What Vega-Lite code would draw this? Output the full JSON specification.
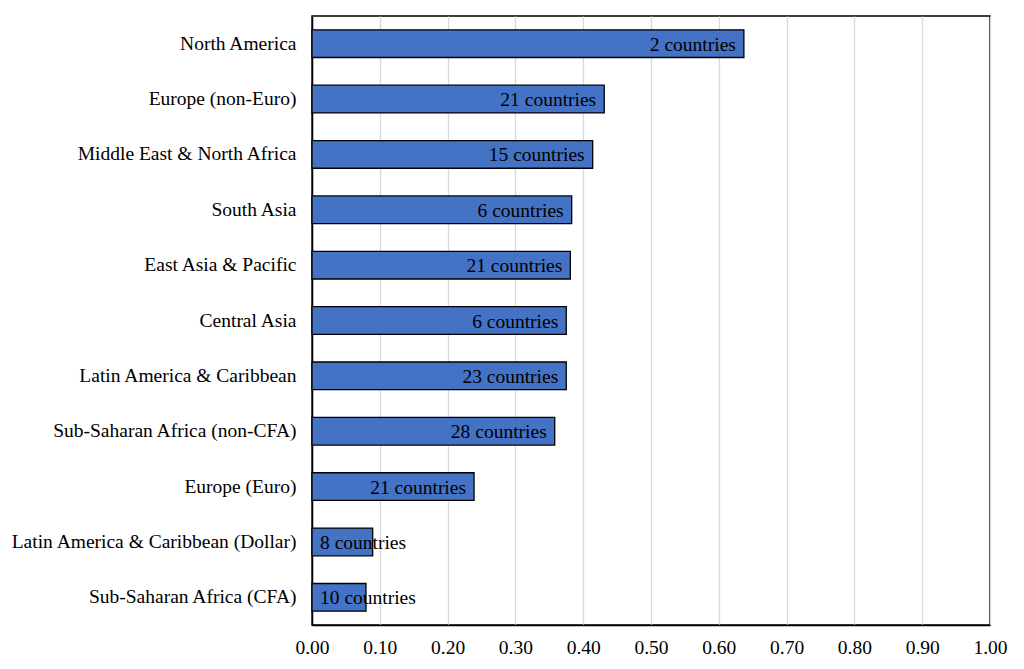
{
  "$schema": "https://vega.github.io/schema/vega-lite/v6.json",
  "autosize": "none",
  "padding": {"left": 312, "top": 16, "right": 34, "bottom": 44},
  "width": 678,
  "height": 609,
  "background": "white",
  "config": {
    "view": {"stroke": "black", "strokeWidth": 1.5},
    "font": "Liberation Serif"
  },
  "data": {
    "values": [
      {"region": "North America", "value": 0.637, "label": "2 countries"},
      {"region": "Europe (non-Euro)", "value": 0.431, "label": "21 countries"},
      {"region": "Middle East & North Africa", "value": 0.414, "label": "15 countries"},
      {"region": "South Asia", "value": 0.383, "label": "6 countries"},
      {"region": "East Asia & Pacific", "value": 0.381, "label": "21 countries"},
      {"region": "Central Asia", "value": 0.375, "label": "6 countries"},
      {"region": "Latin America & Caribbean", "value": 0.375, "label": "23 countries"},
      {"region": "Sub-Saharan Africa (non-CFA)", "value": 0.358, "label": "28 countries"},
      {"region": "Europe (Euro)", "value": 0.239, "label": "21 countries"},
      {"region": "Latin America & Caribbean (Dollar)", "value": 0.0895, "label": "8 countries"},
      {"region": "Sub-Saharan Africa (CFA)", "value": 0.0796, "label": "10 countries"}
    ]
  },
  "encoding": {
    "y": {
      "field": "region",
      "type": "nominal",
      "sort": null,
      "title": null,
      "scale": {"paddingInner": 0.5, "paddingOuter": 0.25},
      "axis": {
        "domain": true,
        "domainColor": "black",
        "domainWidth": 1.5,
        "ticks": false,
        "labelFont": "Liberation Serif",
        "labelFontSize": 19.5,
        "labelColor": "black",
        "labelPadding": 16,
        "labelLimit": 400
      }
    }
  },
  "layer": [
    {
      "mark": {"type": "bar", "color": "#4472C4", "stroke": "black", "strokeWidth": 1.3},
      "encoding": {
        "x": {
          "field": "value",
          "type": "quantitative",
          "title": null,
          "scale": {"domain": [0, 1], "nice": false, "zero": true},
          "axis": {
            "values": [0, 0.1, 0.2, 0.3, 0.4, 0.5, 0.6, 0.7, 0.8, 0.9, 1.0],
            "format": ".2f",
            "domain": true,
            "domainColor": "black",
            "domainWidth": 1.5,
            "ticks": false,
            "grid": true,
            "gridColor": "#d9d9d9",
            "gridWidth": 1.3,
            "labelFont": "Liberation Serif",
            "labelFontSize": 19.5,
            "labelColor": "black",
            "labelPadding": 13,
            "labelFlush": false
          }
        }
      }
    },
    {
      "transform": [{"filter": "datum.value > 0.15"}],
      "mark": {"type": "text", "align": "right", "baseline": "middle", "dx": -8, "dy": 1, "fontSize": 19.5, "font": "Liberation Serif", "color": "black"},
      "encoding": {
        "x": {"field": "value", "type": "quantitative"},
        "text": {"field": "label"}
      }
    },
    {
      "transform": [{"filter": "datum.value <= 0.15"}],
      "mark": {"type": "text", "align": "left", "baseline": "middle", "dx": 8, "dy": 1, "fontSize": 19.5, "font": "Liberation Serif", "color": "black"},
      "encoding": {
        "x": {"datum": 0, "type": "quantitative"},
        "text": {"field": "label"}
      }
    }
  ]
}
